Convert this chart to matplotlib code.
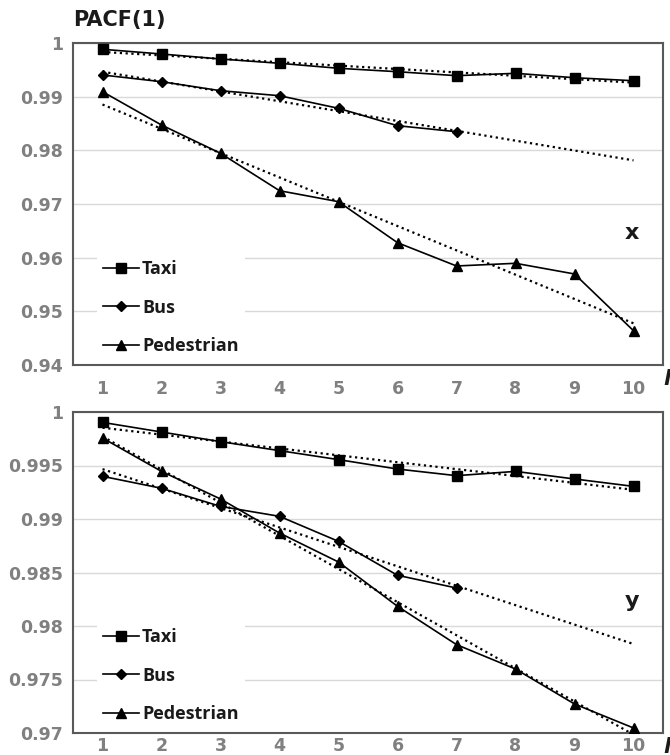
import numpy as np
import matplotlib
matplotlib.use("Agg")
import matplotlib.pyplot as plt

plt.rcParams['font.family'] = ['DejaVu Sans']

lags = [1, 2, 3, 4, 5, 6, 7, 8, 9, 10]
bus_lags = [1, 2, 3, 4, 5, 6, 7]

# PACF(1) for the x component
taxi_x = [0.99883, 0.99795, 0.99702, 0.99622, 0.99529, 0.99465, 0.99391, 0.99435, 0.99353, 0.99297]
bus_x = [0.99404, 0.99279, 0.99111, 0.99018, 0.98783, 0.98459, 0.98347]
ped_x = [0.99093, 0.98472, 0.97945, 0.97248, 0.97043, 0.96279, 0.95845, 0.95895, 0.95696, 0.94639]

# PACF(1) for the y component
taxi_y = [0.99903, 0.99813, 0.99723, 0.99639, 0.99555, 0.99467, 0.99405, 0.99445, 0.99374, 0.99305]
bus_y = [0.99399, 0.99287, 0.99118, 0.99025, 0.98791, 0.98474, 0.98355]
ped_y = [0.99757, 0.99445, 0.99187, 0.98869, 0.98598, 0.98184, 0.97826, 0.97598, 0.97271, 0.97047]

yticks_x = [0.94, 0.95, 0.96, 0.97, 0.98, 0.99, 1.0]
yticklabels_x = ['0.94', '0.95', '0.96', '0.97', '0.98', '0.99', '1']
yticks_y = [0.97, 0.975, 0.98, 0.985, 0.99, 0.995, 1.0]
yticklabels_y = ['0.97', '0.975', '0.98', '0.985', '0.99', '0.995', '1']

series_names = ['Taxi', 'Bus', 'Pedestrian']
markers = ['s', 'D', '^']
msizes = [7.5, 5.5, 6.5]

TICK_GREY = "#808080"
GRID_GREY = "#d9d9d9"
SPINE_GREY = "#595959"
INK = "#1a1a1a"

fig = plt.figure(figsize=(6.7, 7.55), dpi=100)
W, H = 670, 755
ax_top = fig.add_axes([73 / W, 1 - 365 / H, 590 / W, 322 / H])
ax_bot = fig.add_axes([73 / W, 1 - 733 / H, 590 / W, 321 / H])


def draw_panel(ax, taxi, bus, ped, yticks, yticklabels, tag, xpad):
    data = [(lags, taxi), (bus_lags, bus), (lags, ped)]
    handles = []
    for (xs, ys), name, mk, ms in zip(data, series_names, markers, msizes):
        h, = ax.plot(xs, ys, color='black', lw=1.2, marker=mk, ms=ms,
                     label=name, zorder=3)
        handles.append(h)
        # linear trend line, extended over all lags
        coef = np.polyfit(xs, ys, 1)
        xt = np.array([lags[0], lags[-1]])
        ax.plot(xt, np.polyval(coef, xt), color='black', lw=1.6,
                ls=(0, (1, 1.6)), zorder=2)

    ax.set_xlim(0.5, 10.5)
    ax.set_ylim(yticks[0], yticks[-1])
    ax.set_xticks(lags)
    ax.set_xticklabels([str(v) for v in lags])
    ax.set_yticks(yticks)
    ax.set_yticklabels(yticklabels)
    ax.tick_params(length=0, labelsize=12.5, labelcolor=TICK_GREY)
    ax.tick_params(axis='y', pad=7)
    ax.tick_params(axis='x', pad=xpad)
    for lbl in ax.get_xticklabels() + ax.get_yticklabels():
        lbl.set_fontweight('bold')
    ax.grid(axis='y', color=GRID_GREY, lw=1.0, zorder=0)
    ax.set_axisbelow(True)
    for sp in ax.spines.values():
        sp.set_color(SPINE_GREY)
        sp.set_linewidth(1.5)

    leg = ax.legend(handles=handles, loc='lower left', bbox_to_anchor=(0.025, -0.018),
                    frameon=True, facecolor='white', edgecolor='none', framealpha=1,
                    prop={'family': 'Open Sans', 'weight': 'bold', 'size': 13},
                    handlelength=2.0, handletextpad=0.15,
                    labelspacing=1.15, numpoints=1, borderpad=0.35)
    leg.set_zorder(4)
    for t in leg.get_texts():
        t.set_color(INK)

    ax.text(0.948, 0.41, tag, transform=ax.transAxes, fontsize=16,
            fontweight='bold', ha='center', va='center', color=INK)
    # lag axis label at the far right
    ax.text(1.0, -0.045, 'l', transform=ax.transAxes, fontsize=15,
            fontweight='bold', style='italic', ha='left', va='center',
            color=INK, clip_on=False)


draw_panel(ax_top, taxi_x, bus_x, ped_x, yticks_x, yticklabels_x, 'x', 11)
draw_panel(ax_bot, taxi_y, bus_y, ped_y, yticks_y, yticklabels_y, 'y', 3)

fig.text(73 / W, 1 - 20 / H, 'PACF(1)', fontsize=15, fontweight='bold',
         ha='left', va='center', color=INK)

fig.savefig('out.png', dpi=100)
